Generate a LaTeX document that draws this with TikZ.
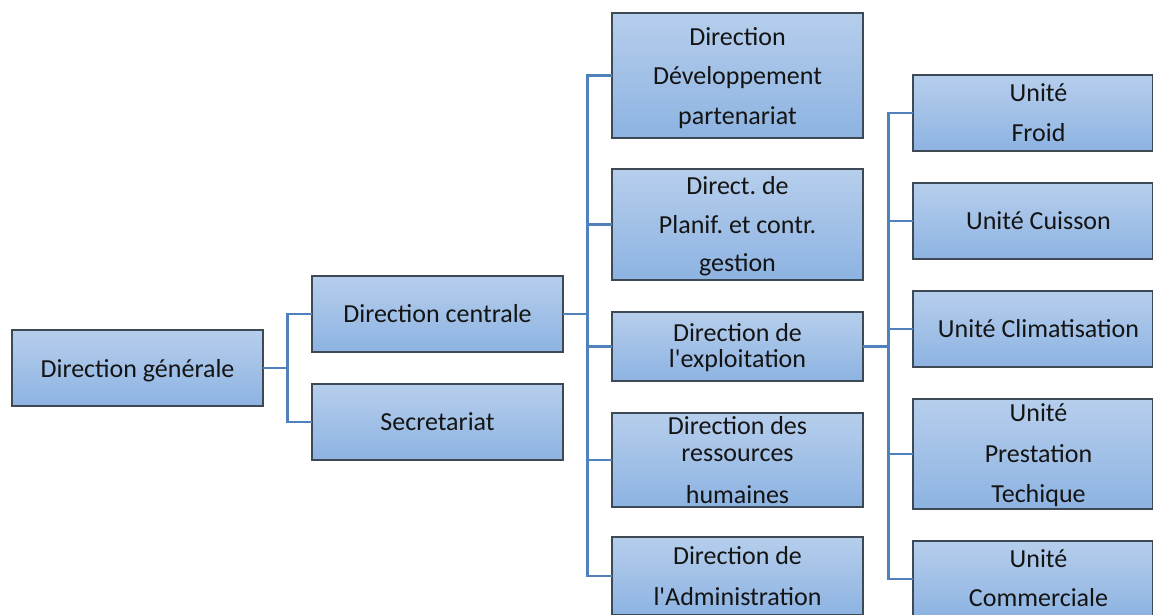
\documentclass[tikz,border=0pt]{standalone}
\usepackage{fontspec}
\setmainfont{Carlito}[Ligatures=TeXOff]
\frenchspacing
\definecolor{boxtop}{HTML}{B6CEEC}
\definecolor{boxbot}{HTML}{8DB3E2}
\definecolor{boxline}{HTML}{3E4956}
\definecolor{conncol}{HTML}{4F81BD}
\begin{document}
\begin{tikzpicture}[x=1pt,y=-1pt,
  orgbox/.style={draw=boxline, line width=1.2pt, top color=boxtop, bottom color=boxbot,
    inner sep=0pt, outer sep=0pt, anchor=north west, shape=rectangle},
  conn/.style={draw=conncol, line width=2.8pt, line join=miter},
  txt/.style={inner sep=0pt, anchor=base, text=black!92, font=\fontsize{26}{30}\selectfont}]
\useasboundingbox (0,0) rectangle (1153,614);
\clip (0,0) rectangle (1153,614);
\fill[white] (0,0) rectangle (1153,614);
% junction columns
\coordinate (j1) at (287.5,0);
\coordinate (j2) at (587.5,0);
\coordinate (j3) at (888.5,0);
% boxes
\node[orgbox, minimum width=251pt, minimum height=76pt] (dg) at (12,330) {};
\node[orgbox, minimum width=251pt, minimum height=76pt] (dc) at (312,276) {};
\node[orgbox, minimum width=251pt, minimum height=76pt] (sec) at (312,384) {};
\node[orgbox, minimum width=251pt, minimum height=125pt] (m1) at (612,13) {};
\node[orgbox, minimum width=251pt, minimum height=111pt] (m2) at (612,169) {};
\node[orgbox, minimum width=251pt, minimum height=69pt] (m3) at (612,312) {};
\node[orgbox, minimum width=251pt, minimum height=94pt] (m4) at (612,413) {};
\node[orgbox, minimum width=251pt, minimum height=78pt] (m5) at (612,537) {};
\node[orgbox, minimum width=239.5pt, minimum height=76pt] (u1) at (913,75) {};
\node[orgbox, minimum width=239.5pt, minimum height=76pt] (u2) at (913,183) {};
\node[orgbox, minimum width=239.5pt, minimum height=76pt] (u3) at (913,291) {};
\node[orgbox, minimum width=239.5pt, minimum height=110pt] (u4) at (913,399) {};
\node[orgbox, minimum width=239.5pt, minimum height=76pt] (u5) at (913,541) {};
% connectors
\draw[conn] (dg.east) -- (dg.east -| j1);
\draw[conn] (dc.west) -| (j1 |- sec.west) -- (sec.west);
\draw[conn] (dc.east) -- (dc.east -| j2);
\draw[conn] (m1.west) -| (j2 |- m5.west) -- (m5.west);
\draw[conn] (j2 |- m2.west) -- (m2.west);
\draw[conn] (j2 |- m3.west) -- (m3.west);
\draw[conn] (j2 |- m4.west) -- (m4.west);
\draw[conn] (m3.east) -- (m3.east -| j3);
\draw[conn] (u1.west) -| (j3 |- u5.west) -- (u5.west);
\draw[conn] (j3 |- u2.west) -- (u2.west);
\draw[conn] (j3 |- u3.west) -- (u3.west);
\draw[conn] (j3 |- u4.west) -- (u4.west);
% texts
\node[txt] (tdg) at (137.5,377) {Direction générale};
\node[txt] (tdc) at (437.5,322) {Direction centrale};
\node[txt] (tsec) at (437.5,430) {Secretariat};
\node[txt] (tm1a) at (737.5,45) {Direction};
\node[txt] (tm1b) at (737.5,84) {Développement};
\node[txt] (tm1c) at (737.5,124) {partenariat};
\node[txt] (tm2a) at (737.5,194) {Direct. de};
\node[txt] (tm2b) at (737.5,233) {Planif. et contr.};
\node[txt] (tm2c) at (737.5,271) {gestion};
\node[txt] (tm3a) at (737.5,341) {Direction de};
\node[txt] (tm3b) at (737.5,367) {l'exploitation};
\node[txt] (tm4a) at (737.5,434) {Direction des};
\node[txt] (tm4b) at (737.5,461) {ressources};
\node[txt] (tm4c) at (737.5,503) {humaines};
\node[txt] (tm5a) at (737.5,564) {Direction de};
\node[txt] (tm5b) at (737.5,605) {l'Administration};
\node[txt] (tu1a) at (1038.5,101) {Unité};
\node[txt] (tu1b) at (1038.5,141) {Froid};
\node[txt] (tu2) at (1038.5,229) {Unité Cuisson};
\node[txt] (tu3) at (1038.5,337) {Unité Climatisation};
\node[txt] (tu4a) at (1038.5,421) {Unité};
\node[txt] (tu4b) at (1038.5,462) {Prestation};
\node[txt] (tu4c) at (1038.5,502) {Techique};
\node[txt] (tu5a) at (1038.5,567) {Unité};
\node[txt] (tu5b) at (1038.5,606) {Commerciale};
\end{tikzpicture}
\end{document}
